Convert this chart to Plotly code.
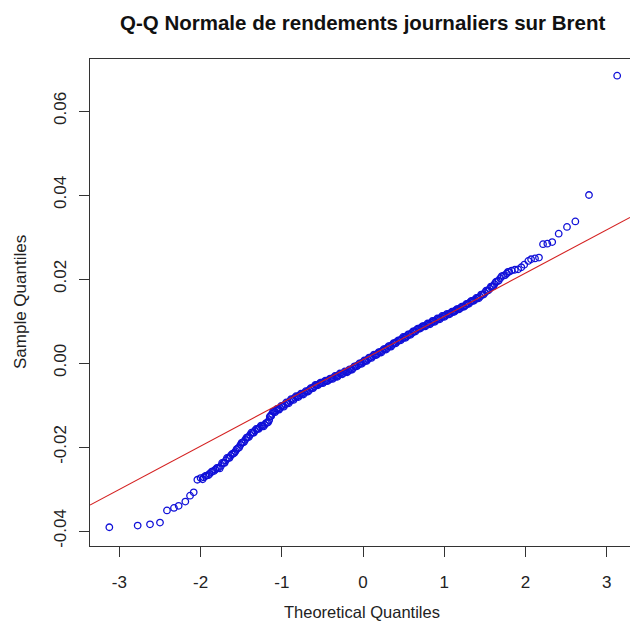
import plotly.graph_objects as go

# ---- data ----
theoretical_q = [
    -3.124, -2.775, -2.623, -2.500, -2.414, -2.328, -2.270, -2.188, -2.130, -2.085,
    -2.040, -2.000, -1.960, -1.925, -1.890, -1.855, -1.820, -1.785, -1.750, -1.720,
    -1.690, -1.660, -1.630, -1.600, -1.570, -1.540, -1.510, -1.480, -1.450, -1.420,
    -1.390, -1.360, -1.330, -1.300, -1.270, -1.240, -1.210, -1.180, -1.155, -1.140,
    -1.120, -1.095, -1.070, -1.045, -1.020, -0.990, -0.960, -0.930, -0.900, -0.870,
    -0.840, -0.810, -0.780, -0.750, -0.720, -0.690, -0.660, -0.630, -0.600, -0.570,
    -0.540, -0.510, -0.480, -0.450, -0.420, -0.390, -0.360, -0.330, -0.300, -0.270,
    -0.240, -0.210, -0.180, -0.150, -0.120, -0.090, -0.060, -0.030, 0.000, 0.030,
    0.060, 0.090, 0.120, 0.150, 0.180, 0.210, 0.240, 0.270, 0.300, 0.330,
    0.360, 0.390, 0.420, 0.450, 0.480, 0.510, 0.540, 0.570, 0.600, 0.630,
    0.660, 0.690, 0.720, 0.750, 0.780, 0.810, 0.840, 0.870, 0.900, 0.930,
    0.960, 0.990, 1.020, 1.050, 1.080, 1.110, 1.140, 1.170, 1.200, 1.230,
    1.260, 1.290, 1.320, 1.350, 1.380, 1.410, 1.440, 1.470, 1.500, 1.530,
    1.560, 1.590, 1.620, 1.650, 1.690, 1.730, 1.770, 1.800, 1.830, 1.870,
    1.910, 1.950, 1.985, 2.036, 2.070, 2.118, 2.167, 2.217, 2.270, 2.330,
    2.410, 2.512, 2.615, 2.783, 3.130,
    # denser points in the crowded band
    -1.975, -1.940, -1.905, -1.870, -1.835, -1.800, -1.765, -1.735, -1.705, -1.675,
    -1.645, -1.615, -1.585, -1.555, -1.525, -1.495, -1.465, -1.435, -1.405, -1.375,
    -1.345, -1.315, -1.285, -1.255, -1.225, -1.195, -1.168, -1.148, -1.130, -1.108,
    -1.083, -1.058, -1.033, -1.005, -0.975, -0.945, -0.915, -0.885, -0.855, -0.825,
    -0.795, -0.765, -0.735, -0.705, -0.675, -0.645, -0.615, -0.585, -0.555, -0.525,
    -0.495, -0.465, -0.435, -0.405, -0.375, -0.345, -0.315, -0.285, -0.255, -0.225,
    -0.195, -0.165, -0.135, -0.105, -0.075, -0.045, -0.015, 0.015, 0.045, 0.075,
    0.105, 0.135, 0.165, 0.195, 0.225, 0.255, 0.285, 0.315, 0.345, 0.375,
    0.405, 0.435, 0.465, 0.495, 0.525, 0.555, 0.585, 0.615, 0.645, 0.675,
    0.705, 0.735, 0.765, 0.795, 0.825, 0.855, 0.885, 0.915, 0.945, 0.975,
    1.005, 1.035, 1.065, 1.095, 1.125, 1.155, 1.185, 1.215, 1.245, 1.275,
    1.305, 1.335, 1.365, 1.395, 1.425, 1.455, 1.485, 1.515, 1.545, 1.575,
    1.605, 1.635, 1.670, 1.710, 1.750, 1.785,
]
sample_q = [
    -0.0391, -0.0387, -0.0384, -0.0380, -0.0351, -0.0345, -0.0340, -0.0330, -0.0316, -0.0308,
    -0.0278, -0.0274, -0.0272, -0.0268, -0.0264, -0.0258, -0.0254, -0.0250, -0.0245, -0.0238,
    -0.0232, -0.0226, -0.0221, -0.0216, -0.0210, -0.0203, -0.0195, -0.0189, -0.0183, -0.0177,
    -0.0171, -0.0166, -0.0161, -0.0157, -0.0153, -0.0150, -0.0147, -0.0142, -0.0136, -0.0126,
    -0.0121, -0.0116, -0.0113, -0.0110, -0.0107, -0.0103, -0.0099, -0.0095, -0.0091, -0.0087,
    -0.0083, -0.0080, -0.0077, -0.0074, -0.0071, -0.0068, -0.0064, -0.0060, -0.0056, -0.0052,
    -0.0050, -0.0047, -0.0045, -0.0043, -0.0040, -0.0037, -0.0035, -0.0032, -0.0029, -0.0026,
    -0.0024, -0.0021, -0.0019, -0.0016, -0.0012, -0.0008, -0.0005, -0.0001, 0.0002, 0.0005,
    0.0009, 0.0013, 0.0016, 0.0019, 0.0022, 0.0026, 0.0029, 0.0033, 0.0036, 0.0040,
    0.0043, 0.0047, 0.0051, 0.0054, 0.0058, 0.0061, 0.0064, 0.0068, 0.0071, 0.0075,
    0.0079, 0.0082, 0.0085, 0.0088, 0.0090, 0.0093, 0.0096, 0.0099, 0.0102, 0.0105,
    0.0108, 0.0111, 0.0114, 0.0116, 0.0119, 0.0122, 0.0125, 0.0128, 0.0131, 0.0134,
    0.0137, 0.0141, 0.0145, 0.0148, 0.0151, 0.0155, 0.0158, 0.0163, 0.0167, 0.0172,
    0.0177, 0.0182, 0.0188, 0.0194, 0.0202, 0.0208, 0.0213, 0.0217, 0.0220, 0.0222,
    0.0223, 0.0228, 0.0234, 0.0243, 0.0247, 0.0249, 0.0251, 0.0283, 0.0284, 0.0288,
    0.0308, 0.0324, 0.0337, 0.0400, 0.0684,
    # denser points in the crowded band
    -0.0277, -0.0269, -0.0267, -0.0260, -0.0257, -0.0250, -0.0251, -0.0238, -0.0238, -0.0226,
    -0.0226, -0.0217, -0.0214, -0.0205, -0.0201, -0.0190, -0.0188, -0.0178, -0.0176, -0.0166,
    -0.0166, -0.0157, -0.0157, -0.0149, -0.0151, -0.0143, -0.0141, -0.0128, -0.0126, -0.0116,
    -0.0117, -0.0109, -0.0111, -0.0102, -0.0104, -0.0094, -0.0096, -0.0086, -0.0088, -0.0079,
    -0.0081, -0.0073, -0.0075, -0.0067, -0.0068, -0.0060, -0.0060, -0.0052, -0.0053, -0.0047,
    -0.0048, -0.0042, -0.0043, -0.0037, -0.0038, -0.0031, -0.0033, -0.0025, -0.0027, -0.0020,
    -0.0022, -0.0015, -0.0016, -0.0008, -0.0008, -0.0001, -0.0002, 0.0006, 0.0005, 0.0013,
    0.0012, 0.0020, 0.0019, 0.0026, 0.0025, 0.0033, 0.0032, 0.0040, 0.0039, 0.0047,
    0.0047, 0.0054, 0.0054, 0.0062, 0.0060, 0.0068, 0.0067, 0.0075, 0.0075, 0.0082,
    0.0082, 0.0088, 0.0087, 0.0094, 0.0092, 0.0100, 0.0098, 0.0106, 0.0104, 0.0112,
    0.0110, 0.0117, 0.0116, 0.0122, 0.0122, 0.0128, 0.0128, 0.0134, 0.0134, 0.0141,
    0.0141, 0.0148, 0.0148, 0.0155, 0.0154, 0.0163, 0.0163, 0.0172, 0.0173, 0.0182,
    0.0183, 0.0193, 0.0196, 0.0207, 0.0209, 0.0217,
]
# reference line (qqline): intercept and slope
qqline_intercept = 0.0008
qqline_slope = 0.0103

x_ticks = [-3, -2, -1, 0, 1, 2, 3]
x_tick_labels = ["-3", "-2", "-1", "0", "1", "2", "3"]
y_ticks = [-0.04, -0.02, 0.00, 0.02, 0.04, 0.06]
y_tick_labels = ["-0.04", "-0.02", "0.00", "0.02", "0.04", "0.06"]

title_text = "Q-Q Normale de rendements journaliers sur Brent"
x_label = "Theoretical Quantiles"
y_label = "Sample Quantiles"

# ---- layout / style ----
W, H = 630, 624
ML, MT, MB, MR = 90, 59, 78, 0
x_range = [-3.362, 3.288]
y_range = [-0.04357, 0.07238]
FONT = "Liberation Sans, Arial, sans-serif"
AX = "#333333"

fig = go.Figure()
fig.add_trace(go.Scatter(
    x=theoretical_q, y=sample_q, mode="markers",
    marker=dict(symbol="circle-open", size=6.5, color="#1010d8",
                line=dict(width=1.3, color="#1010d8")),
    showlegend=False, hoverinfo="x+y", cliponaxis=False,
))
line_x = list(x_range)
line_y = [qqline_intercept + qqline_slope * v for v in line_x]
fig.add_trace(go.Scatter(
    x=line_x, y=line_y, mode="lines",
    line=dict(color="#d42020", width=1.1),
    showlegend=False, hoverinfo="skip",
))

fig.update_layout(
    width=W, height=H,
    margin=dict(l=ML, r=MR, t=MT, b=MB, pad=0),
    paper_bgcolor="white", plot_bgcolor="white",
    font=dict(family=FONT, size=17, color="#222222"),
    xaxis=dict(
        range=x_range, tickvals=x_ticks, ticktext=x_tick_labels,
        showgrid=False, zeroline=False,
        showline=True, mirror=True, linecolor=AX, linewidth=1.3,
        ticks="outside", ticklen=10, tickwidth=1.2, tickcolor=AX,
        ticklabelstandoff=10,
        tickfont=dict(size=17, color="#222222"),
    ),
    yaxis=dict(
        range=y_range, tickvals=y_ticks, ticktext=y_tick_labels,
        showgrid=False, zeroline=False,
        showline=True, mirror=False, linecolor=AX, linewidth=1.3,
        ticks="outside", ticklen=10, tickwidth=1.2, tickcolor=AX,
        tickangle=-90, ticklabelstandoff=6,
        tickfont=dict(size=17, color="#222222"),
    ),
    annotations=[
        dict(text="<b>" + title_text + "</b>", xref="paper", yref="paper",
             x=(362 - ML) / (W - ML - MR), y=(H - MB - 22) / (H - MB - MT),
             xanchor="center", yanchor="middle", showarrow=False,
             font=dict(size=20.5, color="#111111", family=FONT)),
        dict(text=x_label, xref="paper", yref="paper",
             x=(362 - ML) / (W - ML - MR), y=(H - MB - 612) / (H - MB - MT),
             xanchor="center", yanchor="middle", showarrow=False,
             font=dict(size=16.5, color="#222222", family=FONT)),
        dict(text=y_label, xref="paper", yref="paper",
             x=(20 - ML) / (W - ML - MR), y=(H - MB - 302) / (H - MB - MT),
             xanchor="center", yanchor="middle", showarrow=False, textangle=-90,
             font=dict(size=17, color="#222222", family=FONT)),
    ],
)

fig.write_html("out.html")
